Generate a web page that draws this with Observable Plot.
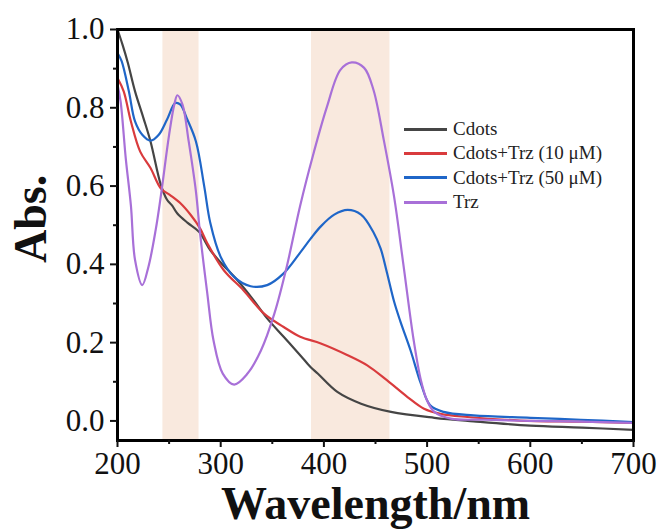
<!DOCTYPE html>
<html>
<head>
<meta charset="utf-8">
<script src="https://cdn.jsdelivr.net/npm/d3@7"></script>
<script src="https://cdn.jsdelivr.net/npm/@observablehq/plot@0.6"></script>
<style>
  html, body { margin: 0; padding: 0; background: #fff; }
  #wrap { position: relative; width: 663px; height: 529px; }
  #legend { position: absolute; left: 404px; top: 117px; font-family: "Liberation Serif", serif; font-size: 19px; color: #222; }
  .row { display: flex; align-items: center; height: 24.3px; }
  .sw { width: 43px; height: 3px; margin-right: 6px; }
</style>
</head>
<body>
<div id="wrap"><div id="legend"></div></div>
<script>
const seriesNames = ["Cdots", "Cdots+Trz (10 μM)", "Cdots+Trz (50 μM)", "Trz"];
const seriesColors = ["#454545", "#d93b3d", "#1f66c8", "#a870d8"];

const wlCdots = [200,205,210,217,225,232,242,248,253,258,268,279,290,300,316,332,345,361,377,387,394,413,436,465,507,545,600,650,700];
const absCdots = [1.0,0.96,0.915,0.842,0.775,0.714,0.603,0.565,0.55,0.53,0.506,0.483,0.436,0.405,0.36,0.308,0.262,0.215,0.168,0.138,0.121,0.074,0.044,0.023,0.008,-0.001,-0.012,-0.017,-0.023];

const wlTrz10 = [200,206,213,222,232,242,251,261,271,280,287,303,322,342,361,377,397,423,442,461,481,497,513,539,590,650,700];
const absTrz10 = [0.876,0.842,0.765,0.688,0.646,0.594,0.577,0.556,0.526,0.492,0.454,0.385,0.334,0.274,0.240,0.215,0.198,0.168,0.142,0.104,0.061,0.031,0.018,0.010,0.001,-0.002,-0.005];

const wlTrz50 = [200,204,211,217,224,232,240,248,256,261,267,276,284,290,300,313,329,345,361,377,387,397,410,423,436,448,455,461,468,474,484,494,503,516,545,600,649,700];
const absTrz50 = [0.94,0.919,0.842,0.765,0.731,0.716,0.731,0.77,0.812,0.808,0.774,0.714,0.6,0.505,0.419,0.368,0.344,0.347,0.377,0.43,0.465,0.497,0.527,0.539,0.527,0.482,0.44,0.38,0.305,0.255,0.18,0.095,0.04,0.023,0.014,0.008,0.003,-0.003];

const wlTrz = [200,203,208,213,217,224,230,237,242,250,255,258,263,269,276,280,287,293,302,313,326,339,352,364,377,390,403,416,427,439,448,458,468,477,487,494,500,507,523,555,600,650,700];
const absTrz = [0.859,0.816,0.671,0.55,0.411,0.347,0.394,0.488,0.575,0.731,0.808,0.832,0.808,0.714,0.586,0.479,0.326,0.206,0.121,0.093,0.121,0.18,0.274,0.394,0.55,0.684,0.803,0.897,0.916,0.902,0.846,0.718,0.573,0.40,0.206,0.104,0.052,0.023,0.006,0.003,0.0,-0.002,-0.005];

const bandStart = [244, 388];
const bandEnd = [279, 464];

const xMajor = [200,300,400,500,600,700];
const xMinor = [250,350,450,550,650];
const yMajor = [0.0,0.2,0.4,0.6,0.8,1.0];
const yMinor = [0.1,0.3,0.5,0.7,0.9];

const xLabel = "Wavelength/nm";
const yLabel = "Abs.";

const toRows = (wl, ab, name) => wl.map((w, i) => ({wl: w, abs: ab[i], series: name}));
const allSeries = [
  toRows(wlCdots, absCdots, seriesNames[0]),
  toRows(wlTrz10, absTrz10, seriesNames[1]),
  toRows(wlTrz50, absTrz50, seriesNames[2]),
  toRows(wlTrz, absTrz, seriesNames[3])
];
const bands = bandStart.map((s, i) => ({x1: s, x2: bandEnd[i]}));

const lines = allSeries.map((rows, i) =>
  Plot.line(rows, {x: "wl", y: "abs", stroke: seriesColors[i], strokeWidth: 2.2, curve: "catmull-rom"})
);

const chart = Plot.plot({
  width: 663,
  height: 529,
  marginLeft: 117,
  marginRight: 30,
  marginTop: 29,
  marginBottom: 89,
  style: {fontFamily: "'Liberation Serif', serif", background: "#fff", color: "#111"},
  x: {domain: [200, 700]},
  y: {domain: [-0.05, 1.0]},
  marks: [
    Plot.rect(bands, {x1: "x1", x2: "x2", fill: "#f9e9de"}),
    ...lines,
    Plot.frame({stroke: "#000", strokeWidth: 3}),
    Plot.axisX(xMajor, {tickSize: 7, strokeWidth: 2, tickPadding: 4, fontSize: 31, fontFamily: "Liberation Serif", tickFormat: d => String(d), label: null}),
    Plot.axisX(xMinor, {tickSize: 4, strokeWidth: 2, tickFormat: () => "", label: null}),
    Plot.axisY(yMajor, {tickSize: 7, strokeWidth: 2, tickPadding: 6, fontSize: 31, fontFamily: "Liberation Serif", tickFormat: d => d.toFixed(1), label: null}),
    Plot.axisY(yMinor, {tickSize: 4, strokeWidth: 2, tickFormat: () => "", label: null}),
    Plot.text([xLabel], {frameAnchor: "bottom", dy: 64, fontSize: 46, fontWeight: "bold", fill: "#111", lineAnchor: "middle", fontFamily: "Liberation Serif"}),
    Plot.text([yLabel], {frameAnchor: "left", dx: -86, dy: 28, rotate: -90, fontSize: 46, fontWeight: "bold", fill: "#111", fontFamily: "Liberation Serif"})
  ]
});
const wrap = document.getElementById("wrap");
wrap.insertBefore(chart, wrap.firstChild);

const legend = document.getElementById("legend");
seriesNames.forEach((n, i) => {
  const row = document.createElement("div");
  row.className = "row";
  const sw = document.createElement("div");
  sw.className = "sw";
  sw.style.background = seriesColors[i];
  const t = document.createElement("span");
  t.textContent = n;
  row.appendChild(sw);
  row.appendChild(t);
  legend.appendChild(row);
});
</script>
</body>
</html>
